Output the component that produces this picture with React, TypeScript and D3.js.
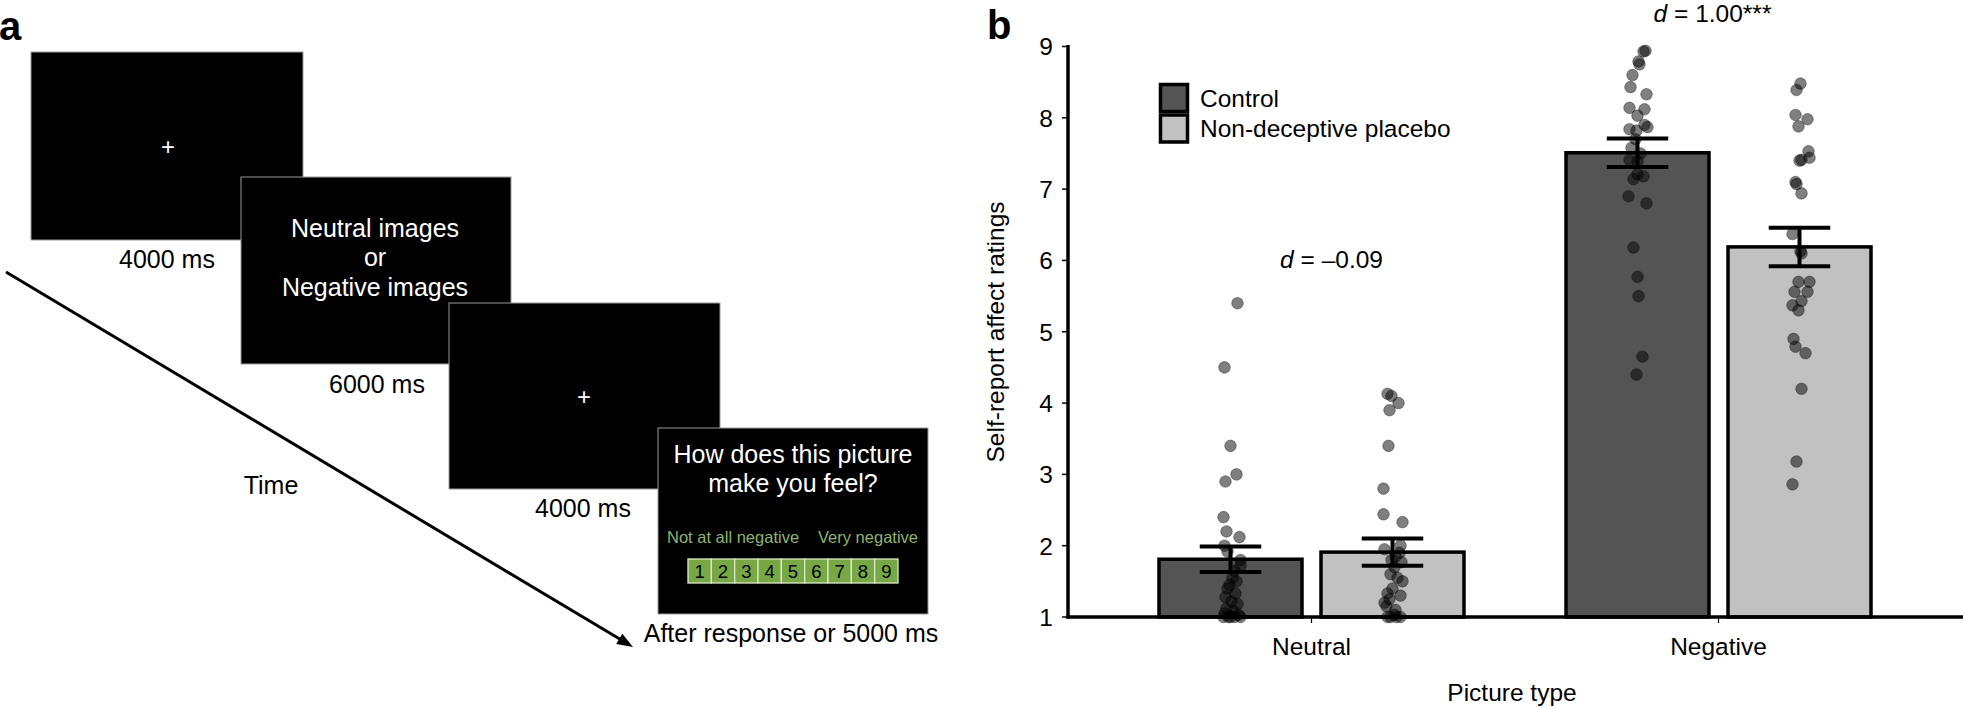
import React from 'react';
import * as d3 from 'd3';

// ---------- Panel b data ----------
const categories = ['Neutral', 'Negative'];
const groups = ['Control', 'Non-deceptive placebo'];
const controlMeans = [1.81, 7.51];
const placeboMeans = [1.91, 6.19];
const controlSE = [0.18, 0.2];
const placeboSE = [0.19, 0.27];
const yTicks = [1, 2, 3, 4, 5, 6, 7, 8, 9];
const effectSizes = ['\u20130.09', '1.00'];
const effectStars = ['', '***'];

// individual ratings: [rating, horizontal jitter in 1/143 of bar width]
const neutralControl = [
  [5.4, 7], [4.5, -6], [3.4, 0], [3.0, 6], [2.9, -5], [2.4, -7], [2.2, -4], [2.12, 9], [2.0, -6],
  [1.92, -3], [1.8, 10], [1.72, 10], [1.65, 4], [1.55, 2], [1.5, 6], [1.45, -1], [1.4, -3],
  [1.33, 5], [1.28, -5], [1.22, 1], [1.18, 7], [1.12, -4], [1.08, 3], [1.05, -6], [1.03, 8],
  [1.0, -2], [1.0, 4], [1.0, -7], [1.0, 10], [1.0, 0],
];
const neutralPlacebo = [
  [4.13, -5], [4.1, -1], [4.0, 6], [3.9, -3], [3.4, -4], [2.8, -9], [2.44, -9], [2.33, 10],
  [2.0, 8], [1.95, -8], [1.9, 7], [1.85, 3], [1.8, -1], [1.77, 9], [1.7, 2], [1.6, -2],
  [1.55, 5], [1.5, 10], [1.4, 0], [1.33, -5], [1.3, 8], [1.25, -3], [1.2, -8], [1.15, -6],
  [1.1, 3], [1.03, 2], [1.0, 8], [1.0, -2], [1.0, 4], [1.0, -5],
];
const negativeControl = [
  [8.94, 8], [8.93, 6], [8.79, 1], [8.75, 2], [8.6, -5], [8.43, -7], [8.33, 9], [8.14, -8],
  [8.12, 7], [8.03, 0], [7.9, 7], [7.87, 10], [7.84, -8], [7.82, -1], [7.7, -2], [7.58, -6],
  [7.5, 3], [7.41, -8], [7.39, 0], [7.21, 0], [7.18, 6], [7.14, -4], [6.9, -9], [6.8, 9],
  [6.18, -4], [5.77, 0], [5.5, 1], [4.65, 5], [4.4, -1],
];
const negativePlacebo = [
  [8.48, 1], [8.39, -3], [8.04, -4], [7.98, 8], [7.88, -1], [7.53, 9], [7.44, 10], [7.41, 2],
  [7.4, 0], [7.1, -4], [7.07, -3], [6.94, 2], [6.37, -7], [6.13, 1], [6.1, 2], [5.7, -1],
  [5.7, 10], [5.56, -5], [5.56, 8], [5.43, 2], [5.37, -7], [5.3, -1], [4.9, -6], [4.79, -4],
  [4.7, 6], [4.2, 2], [3.18, -3], [2.86, -7],
];
const controlPoints = [neutralControl, negativeControl];
const placeboPoints = [neutralPlacebo, negativePlacebo];

// ---------- Panel a content ----------
const ratingScale = ['1', '2', '3', '4', '5', '6', '7', '8', '9'];
const durations = ['4000 ms', '6000 ms', '4000 ms', 'After response or 5000 ms'];

const FONT = '"Liberation Sans", Arial, Helvetica, sans-serif';
const W = 1963;
const H = 708;

function PanelA() {
  const boxes = [
    { x: 31, y: 52, w: 272, h: 188 },
    { x: 241, y: 177, w: 270, h: 187 },
    { x: 449, y: 303, w: 271, h: 186 },
    { x: 658, y: 428, w: 270, h: 186 },
  ];
  const labelPos = [
    { x: 167, y: 268 },
    { x: 377, y: 393 },
    { x: 583, y: 517 },
    { x: 791, y: 642 },
  ];
  const cells = d3.scaleBand<string>().domain(ratingScale).range([688, 898]);
  const x0 = 6, y0 = 272, x1 = 633, y1 = 647;
  const len = Math.hypot(x1 - x0, y1 - y0);
  const ux = (x1 - x0) / len, uy = (y1 - y0) / len;
  const headL = 16, headW = 6;
  const bx = x1 - ux * headL, by = y1 - uy * headL;
  return (
    <g>
      <text x={-1} y={40} fontFamily={FONT} fontWeight="bold" fontSize={40}>a</text>
      {boxes.map((b, i) => (
        <rect key={i} x={b.x} y={b.y} width={b.w} height={b.h} fill="#000" stroke="#9a9a9a" strokeWidth={1} />
      ))}
      <text x={168} y={155} fill="#fff" fontFamily={FONT} fontSize={24} textAnchor="middle">+</text>
      <text x={584} y={405} fill="#fff" fontFamily={FONT} fontSize={24} textAnchor="middle">+</text>
      <g fill="#fff" fontFamily={FONT} fontSize={25} textAnchor="middle">
        <text x={375} y={237}>Neutral images</text>
        <text x={375} y={266}>or</text>
        <text x={375} y={296}>Negative images</text>
        <text x={793} y={463}>How does this picture</text>
        <text x={793} y={492}>make you feel?</text>
      </g>
      <g fill="#8fb36a" fontFamily={FONT} fontSize={16.5}>
        <text x={667} y={543}>Not at all negative</text>
        <text x={918} y={543} textAnchor="end">Very negative</text>
      </g>
      {ratingScale.map((r) => (
        <g key={r}>
          <rect x={cells(r)} y={559} width={cells.bandwidth()} height={24} fill="#78a845" stroke="#dbe8c6" strokeWidth={1.3} />
          <text x={(cells(r) as number) + cells.bandwidth() / 2} y={578} textAnchor="middle" fontFamily={FONT} fontSize={18.5} fill="#000">{r}</text>
        </g>
      ))}
      {durations.map((d, i) => (
        <text key={i} x={labelPos[i].x} y={labelPos[i].y} fontFamily={FONT} fontSize={25} textAnchor="middle">{d}</text>
      ))}
      <text x={271} y={494} fontFamily={FONT} fontSize={25} textAnchor="middle">Time</text>
      <line x1={x0} y1={y0} x2={bx + ux * 2} y2={by + uy * 2} stroke="#000" strokeWidth={3} />
      <polygon
        points={`${x1},${y1} ${bx - uy * headW},${by + ux * headW} ${bx + uy * headW},${by - ux * headW}`}
        fill="#000"
      />
    </g>
  );
}

function PanelB() {
  const axisX = 1068;
  const y = d3.scaleLinear().domain([1, 9]).range([617, 46.5]);
  const x0 = d3.scaleBand<string>().domain(categories).range([1108, 1922]);
  const x1 = d3.scaleBand<string>().domain(groups).range([-152.5, 152.5]).paddingInner(0.1173);
  const bw = x1.bandwidth();
  const fills = ['#545454', '#c1c1c1'];
  const meansBy = [controlMeans, placeboMeans];
  const seBy = [controlSE, placeboSE];
  const ptsBy = [controlPoints, placeboPoints];
  const capW = bw * 0.43;
  const effectDx = [20, -6];
  const effectBaseline = [268, 22];

  return (
    <g fontFamily={FONT}>
      <text x={987} y={39} fontWeight="bold" fontSize={40}>b</text>
      {categories.map((c, ci) =>
        groups.map((g, gi) => {
          const left = (x0(c) as number) + x0.bandwidth() / 2 + (x1(g) as number);
          const m = meansBy[gi][ci];
          return (
            <rect key={c + g} x={left} y={y(m)} width={bw} height={y(1) - y(m)} fill={fills[gi]} stroke="#000" strokeWidth={3.5} />
          );
        })
      )}
      {categories.map((c, ci) =>
        groups.map((g, gi) => {
          const cx = (x0(c) as number) + x0.bandwidth() / 2 + (x1(g) as number) + bw / 2;
          return ptsBy[gi][ci].map((p, pi) => (
            <circle key={c + g + pi} cx={cx + (p[1] * bw) / 143} cy={y(p[0])} r={5.8}
              fill="rgba(0,0,0,0.5)" stroke="rgba(0,0,0,0.35)" strokeWidth={1} />
          ));
        })
      )}
      {categories.map((c, ci) =>
        groups.map((g, gi) => {
          const cx = (x0(c) as number) + x0.bandwidth() / 2 + (x1(g) as number) + bw / 2;
          const m = meansBy[gi][ci];
          const se = seBy[gi][ci];
          return (
            <g key={'e' + c + g} stroke="#000" strokeWidth={4}>
              <line x1={cx} x2={cx} y1={y(m + se)} y2={y(m - se)} />
              <line x1={cx - capW / 2} x2={cx + capW / 2} y1={y(m + se)} y2={y(m + se)} />
              <line x1={cx - capW / 2} x2={cx + capW / 2} y1={y(m - se)} y2={y(m - se)} />
            </g>
          );
        })
      )}
      <line x1={axisX} x2={axisX} y1={45} y2={y(1) + 1.5} stroke="#000" strokeWidth={3.5} />
      <line x1={axisX - 1.5} x2={W} y1={y(1)} y2={y(1)} stroke="#000" strokeWidth={3.5} />
      {yTicks.map((t) => (
        <g key={t}>
          <line x1={axisX - 6} x2={axisX} y1={y(t)} y2={y(t)} stroke="#000" strokeWidth={1.5} />
          <text x={axisX - 15} y={y(t)} dy="0.36em" textAnchor="end" fontSize={24.5}>{t}</text>
        </g>
      ))}
      {categories.map((c) => {
        const cx = (x0(c) as number) + x0.bandwidth() / 2;
        return (
          <g key={'t' + c}>
            <line x1={cx} x2={cx} y1={y(1)} y2={y(1) + 6} stroke="#000" strokeWidth={1.2} />
            <text x={cx} y={655} textAnchor="middle" fontSize={24.5}>{c}</text>
          </g>
        );
      })}
      <text x={1512} y={701} textAnchor="middle" fontSize={24.5}>Picture type</text>
      <text transform="translate(1004,332) rotate(-90)" textAnchor="middle" fontSize={24.5}>Self-report affect ratings</text>
      {categories.map((c, ci) => {
        const cx = (x0(c) as number) + x0.bandwidth() / 2 + effectDx[ci];
        return (
          <text key={'d' + c} x={cx} y={effectBaseline[ci]} textAnchor="middle" fontSize={24.5}>
            <tspan fontStyle="italic">d</tspan>
            <tspan> = {effectSizes[ci]}{effectStars[ci]}</tspan>
          </text>
        );
      })}
      {groups.map((g, gi) => (
        <g key={'l' + g}>
          <rect x={1160.5} y={84.5 + gi * 30.5} width={27} height={27} fill={fills[gi]} stroke="#000" strokeWidth={3.5} />
          <text x={1200} y={107 + gi * 30} fontSize={24.5}>{g}</text>
        </g>
      ))}
    </g>
  );
}

export default function App() {
  return (
    <svg width={W} height={H} viewBox={`0 0 ${W} ${H}`} style={{ position: 'absolute', left: 0, top: 0, background: '#fff' }}>
      <rect x={0} y={0} width={W} height={H} fill="#fff" />
      <PanelA />
      <PanelB />
    </svg>
  );
}
